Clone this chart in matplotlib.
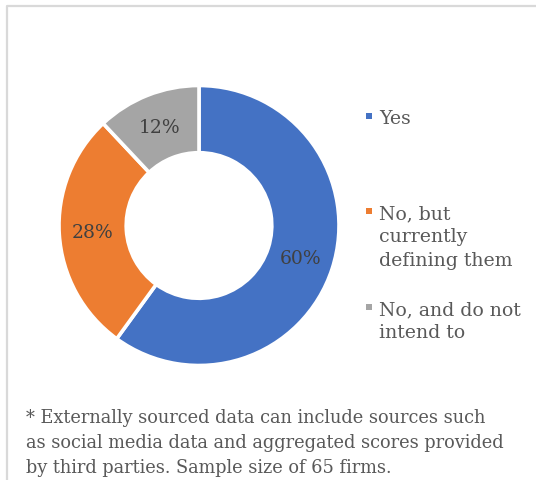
import matplotlib
matplotlib.use("Agg")
import matplotlib.pyplot as plt
from matplotlib.patches import Rectangle
from matplotlib.lines import Line2D

categories = ["Yes", "No, but\ncurrently\ndefining them", "No, and do not\nintend to"]
shares = [60, 28, 12]
colors = ["#4472C4", "#ED7D31", "#A5A5A5"]
footnote = ("* Externally sourced data can include sources such\n"
            "as social media data and aggregated scores provided\n"
            "by third parties. Sample size of 65 firms.")

W, H = 536, 481
fig = plt.figure(figsize=(W / 100, H / 100), dpi=100)
fig.patch.set_facecolor("white")

serif = ["DejaVu Serif"]
text_col = "#595959"


def text_block(x, y_base, block, step, size):
    """Draw a multi-line block line by line; y_base is the first baseline (px from top)."""
    for i, line in enumerate(block.split("\n")):
        fig.text(x / W, (H - y_base - i * step) / H, line, ha="left", va="baseline",
                 color=text_col, fontsize=size, family=serif)


# donut: centre (199, 226.5) px, radius 140 px
cx, cy, r = 199, 226.5, 140
ax = fig.add_axes([(cx - r) / W, (H - cy - r) / H, 2 * r / W, 2 * r / H])
wedges, texts, autotexts = ax.pie(
    shares, colors=colors, startangle=90, counterclock=False,
    radius=1.0, autopct=lambda p: f"{p:.0f}%", pctdistance=0.76,
    wedgeprops=dict(width=0.48, edgecolor="white", linewidth=2.6),
    textprops=dict(color="#404040", fontsize=13.5, family=serif))
ax.set_xlim(-1, 1)
ax.set_ylim(-1, 1)
ax.set_aspect("equal")
ax.axis("off")

# legend entries (marker centre y, in px from top)
leg_y = [117, 212, 308]
for cat, col, y in zip(categories, colors, leg_y):
    s = 6
    fig.patches.append(Rectangle(((369 - s / 2) / W, (H - y - s / 2) / H), s / W, s / H,
                                 transform=fig.transFigure, facecolor=col, edgecolor="none"))
    text_block(379, y + 7, cat, 23.5, 13.6)

text_block(26, 423, footnote, 25, 12.8)

# chart frame (top and left edges)
fig.add_artist(Line2D([6.5 / W, 6.5 / W, 1], [0, (H - 6.5) / H, (H - 6.5) / H],
                      transform=fig.transFigure, color="#D9D9D9", linewidth=1.6))

fig.savefig("out.png", dpi=100)
